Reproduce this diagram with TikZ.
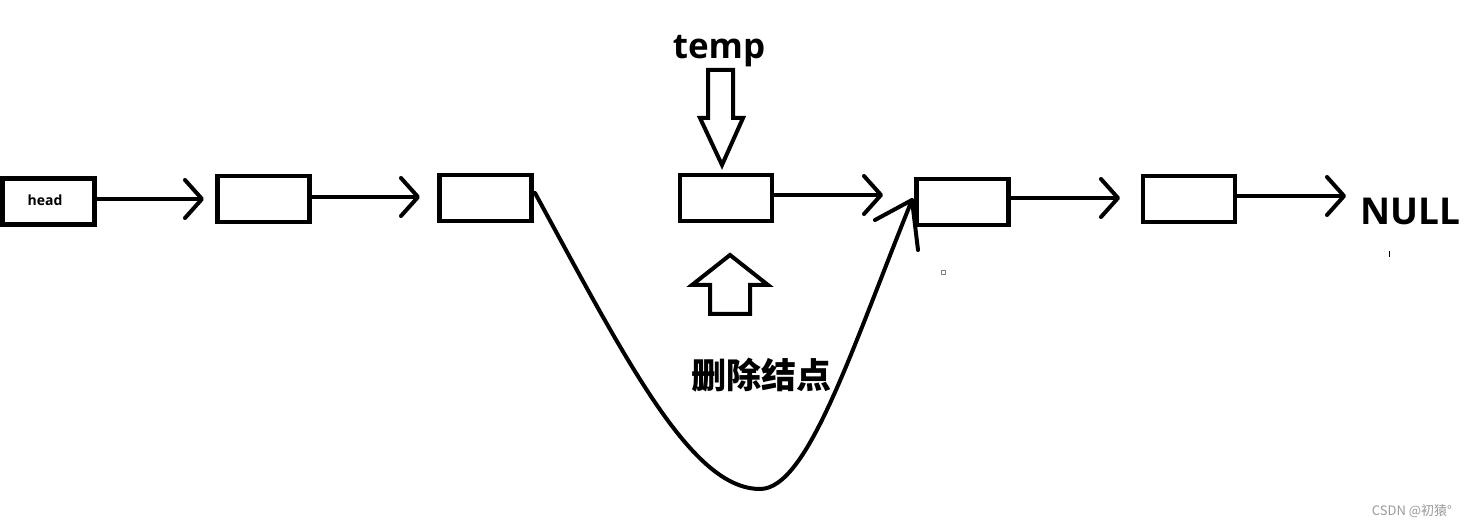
\documentclass[tikz,border=0pt]{standalone}
\usepackage{fontspec}
\newfontfamily\lat{Open Sans}
\newfontfamily\cjk{Noto Sans CJK SC}
\usetikzlibrary{arrows.meta}
\begin{document}
\begin{tikzpicture}[x=1pt,y=-1pt,
  box/.style={draw, line width=4.5pt, minimum width=92pt, minimum height=46pt, inner sep=0pt},
  link/.style={line width=4pt, -{Straight Barb[length=17pt,width=38pt,line width=4pt,round]}},
  curve/.style={line width=4pt, line cap=round, line join=round},
  blockarrow/.style={draw, line width=4pt, fill=white, line join=miter},
  lbl/.style={inner sep=0pt}]
\useasboundingbox (0,0) rectangle (1466,526);

% boxes
\node[box] (head) at (48.5,201.5) {};
\node[lbl, font=\lat\bfseries\fontsize{14}{16}\selectfont] (headtxt) at (45,200) {head};
\node[box] (b2) at (263.5,199) {};
\node[box] (b3) at (485.5,198) {};
\node[box] (b4) at (726,198) {};
\node[box] (b5) at (962.5,202) {};
\node[box] (b6) at (1189,199) {};
\node[lbl, font=\lat\bfseries\fontsize{37}{40}\selectfont] (null) at (1410,211) {NULL};

% arrow tips
\coordinate (t1) at (204,199);
\coordinate (t2) at (420,197);
\coordinate (t4) at (883,195);
\coordinate (t5) at (1120,198);
\coordinate (t6) at (1346,196);

\draw[link] (head.east |- t1) -- (t1);
\draw[link] (b2.east |- t2) -- (t2);
\draw[link] (b4.east |- t4) -- (t4);
\draw[link] (b5.east |- t5) -- (t5);
\draw[link] (b6.east |- t6) -- (t6);

% temp label and block arrows
\node[lbl, font=\lat\bfseries\fontsize{35}{40}\selectfont] (temp) at (719,51) {temp};
\draw[blockarrow] (708,70) -- (733,70) -- (733,118) -- (743,118) -- (722,165) -- (700,118) -- (708,118) -- cycle;
\draw[blockarrow] (730,255) -- (768,285) -- (750,285) -- (750,314) -- (710,314) -- (710,285) -- (692,285) -- cycle;

\node[lbl, font=\cjk\bfseries\fontsize{35}{40}\selectfont] (del) at (761,375) {删除结点};

% curved bypass connector
\coordinate (cs) at (535,193);
\coordinate (ce) at (912,200);
\draw[curve] (cs) .. controls (628,364) and (692,489) .. (760,489)
                  .. controls (808,489) and (852,348) .. (ce);
\draw[curve] (875,220) -- (ce) -- (918,250);

% small marks
\draw[gray, line width=1pt] (941,271) rectangle (945,275);
\draw[line width=1pt] (1389,251) -- (1389,257);

% watermark
\node[lbl, text=gray!80, font=\cjk\fontsize{13}{15}\selectfont] (wm) at (1412,511) {CSDN @初猿°};
\end{tikzpicture}
\end{document}
